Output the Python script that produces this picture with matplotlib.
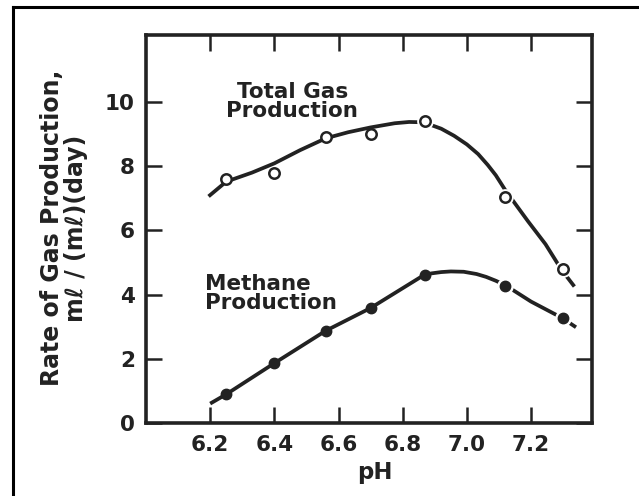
"""Rate of gas production vs pH: total gas and methane, with hand-drawn fit curves."""

import matplotlib

matplotlib.use("Agg")
import matplotlib.pyplot as plt
from matplotlib.lines import Line2D

# Measured points
ph_points = [6.25, 6.40, 6.56, 6.70, 6.87, 7.12, 7.30]
total_gas = [7.6, 7.8, 8.9, 9.0, 9.4, 7.05, 4.8]
methane = [0.9, 1.86, 2.87, 3.58, 4.6, 4.28, 3.28]

# Fitted curves as drawn in the figure
total_curve_ph = [6.195, 6.25, 6.33, 6.40, 6.48, 6.56, 6.63, 6.70, 6.775, 6.82, 6.865,
                  6.92, 6.96, 7.00, 7.035, 7.065, 7.09, 7.12, 7.19, 7.245, 7.295, 7.335]
total_curve_val = [7.06, 7.52, 7.80, 8.09, 8.50, 8.87, 9.06, 9.21, 9.34, 9.38, 9.37,
                   9.17, 8.95, 8.68, 8.38, 8.04, 7.72, 7.25, 6.29, 5.57, 4.77, 4.25]
methane_curve_ph = [6.20, 6.25, 6.40, 6.56, 6.70, 6.865, 6.89, 6.92, 6.95, 6.99, 7.03,
                    7.06, 7.09, 7.12, 7.20, 7.295, 7.34]
methane_curve_val = [0.60, 0.89, 1.86, 2.87, 3.58, 4.60, 4.66, 4.70, 4.72, 4.71, 4.64,
                     4.55, 4.43, 4.29, 3.78, 3.28, 2.98]

x_ticks = [6.2, 6.4, 6.6, 6.8, 7.0, 7.2]
y_ticks = [0, 2, 4, 6, 8, 10]

INK = "#222222"
FONT = "DejaVu Sans"

plt.rcParams["font.family"] = FONT
plt.rcParams["font.weight"] = "bold"

fig = plt.figure(figsize=(6.39, 4.96), dpi=100)
ax = fig.add_axes([0.2285, 0.1475, 0.698, 0.7825])

ax.plot(total_curve_ph, total_curve_val, color=INK, lw=2.7, solid_capstyle="butt", zorder=2)
ax.plot(methane_curve_ph, methane_curve_val, color=INK, lw=2.7, solid_capstyle="butt", zorder=2)

# small white gaps around the markers on the falling side of the curves
ax.plot(ph_points[4:], total_gas[4:], "o", ms=11, mfc="white", mec="white", zorder=2.5)
ax.plot(ph_points[5:], methane[5:], "o", ms=11, mfc="white", mec="white", zorder=2.5)

ax.plot(ph_points, total_gas, "o", ms=7.5, mfc="white", mec=INK, mew=1.8, zorder=3)
ax.plot(ph_points, methane, "o", ms=7.5, mfc=INK, mec=INK, zorder=3)

ax.set_xlim(6.0, 7.39)
ax.set_ylim(0, 12.1)
ax.set_xticks(x_ticks)
ax.set_xticklabels([f"{v:.1f}" for v in x_ticks])
ax.set_yticks(y_ticks)
ax.set_yticklabels([str(v) for v in y_ticks])

ax.tick_params(direction="in", length=11.5, width=1.8, color=INK, labelsize=15.5,
               labelcolor=INK, top=True, right=True)
ax.tick_params(axis="x", pad=9)
ax.tick_params(axis="y", pad=8)
for side in ax.spines.values():
    side.set_linewidth(2.6)
    side.set_color(INK)

ax.text(6.456, 10.03, "Total Gas\nProduction", ha="center", va="center",
        fontsize=15.5, color=INK, linespacing=0.95)
ax.text(6.184, 4.03, "Methane\nProduction", ha="left", va="center",
        fontsize=15.5, color=INK, linespacing=0.95)

fig.text(375 / 639, 1 - 473 / 496, "pH", ha="center", va="center", fontsize=16.5, color=INK)
fig.text(64 / 639, 1 - 228 / 496, "Rate of Gas Production,\nm\u2113 / (m\u2113)(day)",
         rotation=90, ha="center", va="center", fontsize=17, color=INK, linespacing=1.05)

# scan border (top and left edges visible)
fig.add_artist(Line2D([12.5 / 639, 1.0], [1 - 6.5 / 496, 1 - 6.5 / 496], color="black", lw=2.2))
fig.add_artist(Line2D([12.5 / 639, 12.5 / 639], [0.0, 1 - 6.5 / 496], color="black", lw=2.2))

fig.savefig("out.png", dpi=100)
